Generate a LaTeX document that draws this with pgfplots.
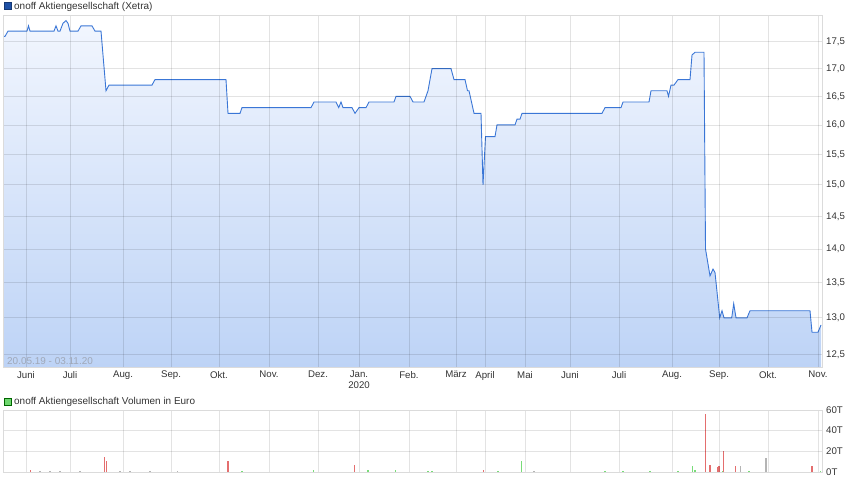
\documentclass[border=0pt]{standalone}
\usepackage{fontspec}
\setmainfont{Liberation Sans}
\usepackage{pgfplots}
\usepackage{pgfplotstable}
\pgfplotsset{compat=1.18}

\definecolor{linecol}{RGB}{58,118,214}
\definecolor{filltop}{RGB}{242,246,254}
\definecolor{fillbot}{RGB}{189,211,246}
\definecolor{txt}{RGB}{51,51,51}
\definecolor{datecol}{RGB}{160,168,184}
\definecolor{legblue}{RGB}{30,80,165}
\definecolor{leggreen}{RGB}{110,215,110}
\definecolor{volred}{RGB}{228,110,110}
\definecolor{volgreen}{RGB}{120,220,120}
\definecolor{volgray}{RGB}{180,180,180}

% x = horizontal position in the chart (trading time), y = price in EUR
\pgfplotstableread{
x y
3 17.6
5 17.6
8 17.7
27 17.7
28.5 17.8
30 17.7
54 17.7
56 17.8
58 17.7
60 17.7
63 17.85
66 17.9
68 17.85
70 17.7
78 17.7
81 17.8
92 17.8
95 17.7
101 17.7
106 16.6
109 16.7
152 16.7
155 16.8
226 16.8
228 16.2
240 16.2
242 16.3
311 16.3
314 16.4
336 16.4
338.7 16.3
341 16.4
343 16.3
352 16.3
355 16.2
359 16.3
366 16.3
369 16.4
394 16.4
396 16.5
410 16.5
413 16.4
424 16.4
428 16.6
432 17.0
451 17.0
454 16.8
465 16.8
467.5 16.6
469 16.6
474 16.2
481 16.2
483 15.0
485.5 15.8
495 15.8
497 16.0
515 16.0
517 16.1
520 16.1
522 16.2
602 16.2
605 16.3
621 16.3
623 16.4
649 16.4
651 16.6
667 16.6
668.5 16.5
671 16.7
674 16.7
678 16.8
690 16.8
692 17.25
695 17.3
704 17.3
705.5 14.0
710 13.6
713 13.7
715 13.65
719.7 13.0
722 13.1
724 13.0
731.7 13.0
733.7 13.2
736 13.0
747 13.0
750 13.1
810 13.1
812 12.8
818 12.8
821 12.9
}\price

\pgfplotsset{
  chartbase/.style={
    scale only axis,
    anchor=south west,
    width=819bp,
    xmin=3, xmax=822,
    axis on top,
    axis line style={draw=black!14},
    major tick length=0pt,
    grid=major,
    major grid style={draw=black, opacity=0.11, line width=0.8pt},
    xtick={26,70,123,171,219,269,318,359,409,456,485,525,570,619,672,719,768,818},
    yticklabel pos=right,
    tick label style={font=\fontsize{9.7}{11}\selectfont, text=txt},
    yticklabel style={anchor=west, inner sep=0pt, xshift=4bp},
  },
}

\begin{document}
\begin{tikzpicture}
\path[use as bounding box] (0,0) rectangle (860bp,481bp);

\begin{axis}[
  chartbase,
  at={(3bp,114bp)},
  height=352bp,
  ymode=log,
  log origin y=infty,
  ymin=12.33, ymax=18.01,
  ytick={12.5,13,13.5,14,14.5,15,15.5,16,16.5,17,17.5},
  yticklabels={{12,5},{13,0},{13,5},{14,0},{14,5},{15,0},{15,5},{16,0},{16,5},{17,0},{17,5}},
  xticklabels={Juni,Juli,Aug.,Sep.,Okt.,Nov.,Dez.,{Jan.\\2020},Feb.,März,April,Mai,Juni,Juli,Aug.,Sep.,Okt.,Nov.},
  xticklabel style={align=center, anchor=north, inner sep=0pt, yshift=-4bp},
]
\addplot[draw=none, top color=filltop, bottom color=fillbot] table[x=x, y=y] {\price} \closedcycle;
\addplot[linecol, line width=0.9pt, no marks] table[x=x, y=y] {\price};
\end{axis}

\begin{axis}[
  chartbase,
  at={(3bp,9bp)},
  height=62bp,
  ymin=0, ymax=60000,
  scaled y ticks=false,
  ytick={0,20000,40000,60000},
  yticklabels={0T,20T,40T,60T},
  xticklabels={},
]
\addplot[ycomb, volgray, line width=1.2pt, no marks] coordinates {
  (40,600) (50,500) (60,1000) (80,500) (120,500) (130,800) (150,500)
  (177.7,1000) (534,1000) (740.7,6000) (766,14000)
};
\addplot[ycomb, volgreen, line width=1.2pt, no marks] coordinates {
  (242,500) (313.3,2300) (368,1500) (395.7,1500) (428,1000) (432,1000)
  (498,500) (521.7,10300) (605,1000) (623,1000) (650,1000) (678,500)
  (692.3,6000) (695,1500) (722.3,1000) (749,500) (820.7,500)
};
\addplot[ycomb, volred, line width=1.2pt, no marks] coordinates {
  (30.7,2300) (104.3,14200) (106.3,11000) (228,10300) (354.3,7000)
  (483.3,1500) (705.3,56600) (710,7000) (717.3,4500) (719,6000)
  (723.7,20000) (735.7,6000) (812,6000)
};
\end{axis}

% headers
\filldraw[fill=legblue, draw=legblue!70!black, line width=0.5pt] (4bp,471.5bp) rectangle (11bp,478.5bp);
\node[anchor=base west, inner sep=0pt, text=txt, font=\fontsize{10}{12}\selectfont] at (14bp,471.5bp) {onoff Aktiengesellschaft (Xetra)};
\filldraw[fill=leggreen, draw=black!60!green, line width=0.5pt] (4bp,76bp) rectangle (11bp,83bp);
\node[anchor=base west, inner sep=0pt, text=txt, font=\fontsize{10}{12}\selectfont] at (14bp,76bp) {onoff Aktiengesellschaft Volumen in Euro};
\node[anchor=base west, inner sep=0pt, text=datecol, font=\fontsize{10}{12}\selectfont] at (7bp,116.7bp) {20.05.19 - 03.11.20};
\end{tikzpicture}
\end{document}
